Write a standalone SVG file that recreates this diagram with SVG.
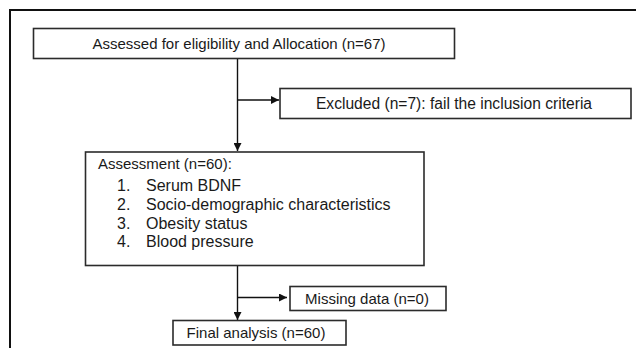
<svg xmlns="http://www.w3.org/2000/svg" width="636" height="348" viewBox="0 0 636 348">
<defs>
<style>
.box{fill:#fff;stroke:#2b2b2b;stroke-width:1.6}
.frame{fill:none;stroke:#111;stroke-width:2}
.ln{fill:none;stroke:#111;stroke-width:1.4}
text{font-family:"Liberation Sans",Arial,sans-serif;font-size:15px;fill:#1a1a1a}
.li{font-size:16px}
</style>
<marker id="ah" markerWidth="8" markerHeight="8" refX="8" refY="4" orient="auto" markerUnits="userSpaceOnUse">
<path d="M0,0 L8,4 L0,8 Z" fill="#111"/>
</marker>
</defs>
<g id="frame"><path class="frame" d="M10,348 V10 H636"/></g>
<g id="connectors">
<path class="ln" d="M237.5,58.5 V151" marker-end="url(#ah)"/>
<path class="ln" d="M237.5,100 H279" marker-end="url(#ah)"/>
<path class="ln" d="M237.5,265.5 V320" marker-end="url(#ah)"/>
<path class="ln" d="M237.5,297.5 H287" marker-end="url(#ah)"/>
</g>
<g id="n1"><rect class="box" x="33.5" y="28.5" width="421" height="30"/><text x="239" y="48.5" text-anchor="middle">Assessed for eligibility and Allocation (n=67)</text></g>
<g id="n2"><rect class="box" x="280" y="88.5" width="351" height="30"/><text x="454" y="108.5" text-anchor="middle" style="font-size:15.6px">Excluded (n=7): fail the inclusion criteria</text></g>
<g id="n3"><rect class="box" x="85.5" y="152" width="338.5" height="113.5"/>
<text x="98" y="168.5">Assessment (n=60):</text>
<text class="li" x="117" y="191">1.</text><text class="li" x="146" y="191">Serum BDNF</text>
<text class="li" x="117" y="210">2.</text><text class="li" x="146" y="210">Socio-demographic characteristics</text>
<text class="li" x="117" y="228.5">3.</text><text class="li" x="146" y="228.5">Obesity status</text>
<text class="li" x="117" y="247">4.</text><text class="li" x="146" y="247">Blood pressure</text>
</g>
<g id="n4"><rect class="box" x="290" y="286.5" width="156" height="24"/><text x="367" y="303.5" text-anchor="middle">Missing data (n=0)</text></g>
<g id="n5"><rect class="box" x="173" y="320.5" width="173" height="24.5"/><text x="256" y="337.5" text-anchor="middle">Final analysis (n=60)</text></g>
</svg>
